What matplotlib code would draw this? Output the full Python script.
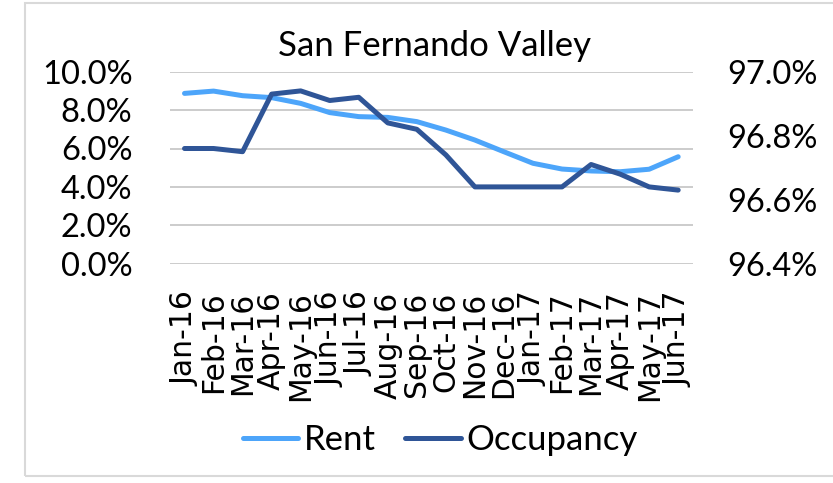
import matplotlib
matplotlib.use("Agg")
import matplotlib.pyplot as plt
from matplotlib.patches import Rectangle
from matplotlib.ticker import FuncFormatter, MultipleLocator

months = ["Jan-16", "Feb-16", "Mar-16", "Apr-16", "May-16", "Jun-16", "Jul-16",
          "Aug-16", "Sep-16", "Oct-16", "Nov-16", "Dec-16", "Jan-17", "Feb-17",
          "Mar-17", "Apr-17", "May-17", "Jun-17"]
rent = [8.87, 8.99, 8.75, 8.65, 8.35, 7.87, 7.66, 7.62, 7.40, 6.96,
        6.44, 5.83, 5.23, 4.93, 4.83, 4.79, 4.92, 5.57]
occupancy = [96.76, 96.76, 96.75, 96.93, 96.94, 96.91, 96.92, 96.84, 96.82, 96.74,
             96.64, 96.64, 96.64, 96.64, 96.71, 96.68, 96.64, 96.63]

plt.rcParams["font.family"] = ["Lato", "DejaVu Sans"]

fig = plt.figure(figsize=(8.33, 4.83), dpi=100)
fig.patches.append(Rectangle((25 / 833, 7 / 483), 1.0, 473 / 483,
                             transform=fig.transFigure, fill=False,
                             edgecolor="#d9d9d9", linewidth=1.5, zorder=0))

ax = fig.add_axes([170 / 833, 1 - 263.7 / 483, 522.7 / 833, 192 / 483])
ax2 = ax.twinx()

x = range(len(months))
l1, = ax.plot(x, rent, color="#4DA5FA", linewidth=3.6, solid_capstyle="round",
              solid_joinstyle="round", label="Rent", zorder=3)
l2, = ax2.plot(x, occupancy, color="#2F5597", linewidth=3.6, solid_capstyle="round",
               solid_joinstyle="round", label="Occupancy", zorder=4)

ax.set_xlim(-0.5, len(months) - 0.5)
ax.set_ylim(0, 10)
ax2.set_ylim(96.4, 97.0)
ax.yaxis.set_major_locator(MultipleLocator(2))
ax2.yaxis.set_major_locator(MultipleLocator(0.2))
ax.yaxis.set_major_formatter(FuncFormatter(lambda v, p: f"{v:.1f}%"))
ax2.yaxis.set_major_formatter(FuncFormatter(lambda v, p: f"{v:.1f}%"))

ax.set_xticks(list(x))
ax.set_xticklabels(months, rotation=90, fontsize=21.5, family="DejaVu Sans")
ax.grid(axis="y", color="#c8c8c8", linewidth=1.3)
ax.set_axisbelow(True)

for a in (ax, ax2):
    for s in a.spines.values():
        s.set_visible(False)
ax.tick_params(axis="y", length=0, pad=27, labelsize=23.5)
ax2.tick_params(axis="y", length=0, pad=25, labelsize=23.5)
ax.tick_params(axis="x", length=0, pad=20)
ax2.set_zorder(ax.get_zorder() + 1)
ax2.patch.set_visible(False)

fig.text(435 / 833, 1 - 46 / 483, "San Fernando Valley", ha="center", va="center",
         fontsize=25)

fig.legend(handles=[l1, l2], loc="center", bbox_to_anchor=(440 / 833, 1 - 440 / 483),
           ncol=2, frameon=False, fontsize=25, handlelength=1.6, handletextpad=0.15,
           columnspacing=0.85)

fig.savefig("out.png", dpi=100)
